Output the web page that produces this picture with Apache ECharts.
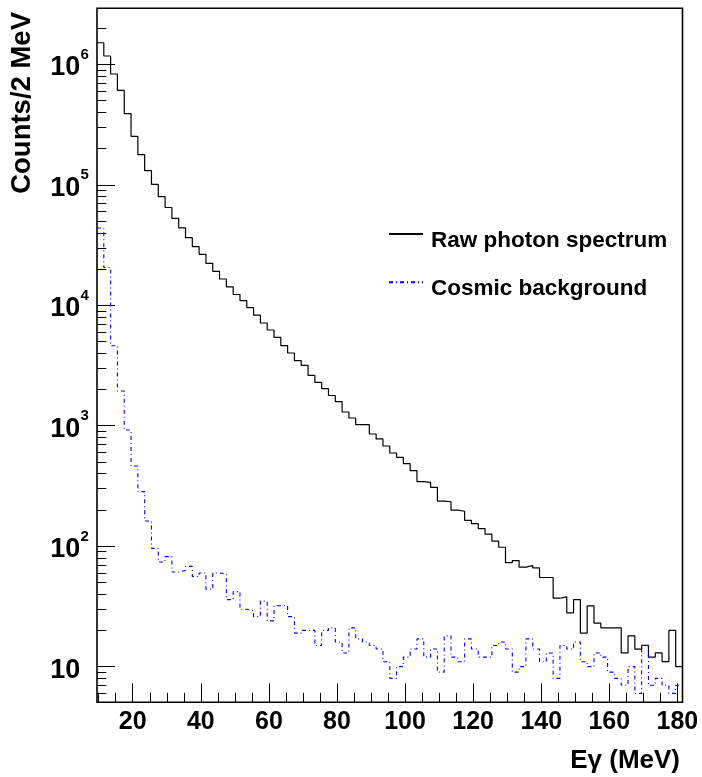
<!DOCTYPE html>
<html><head><meta charset="utf-8">
<script src="https://cdn.jsdelivr.net/npm/echarts@6/dist/echarts.min.js"></script>
<style>html,body{margin:0;padding:0;background:#fff}#c{width:702px;height:777px}</style>
</head><body><div id="c"></div>
<script>
// Histogram binning (2 MeV bins)
const histLow = 9.5;
const histHigh = 181.5;
const binWidth = 2;

// Counts per bin
const rawCounts = [1512000, 1173000, 831500, 608800, 389400, 252800, 177800, 131000, 101000, 79700,
  64800, 52750, 43980, 36400, 30650, 26510, 22320, 19150, 16530, 14240,
  12290, 10940, 9550, 8274, 7129, 6234, 5424, 4620, 4018, 3467,
  3176, 2623, 2287, 2031, 1783, 1584, 1301, 1160, 1020, 1020,
  854, 777, 679, 594, 547, 484, 424, 343, 339, 308,
  237, 234, 199, 195, 164, 154, 140, 126, 110, 98,
  73, 76, 67, 69, 66, 55, 55, 37, 38, 28,
  36, 19, 32, 23, 21, 21, 21, 13, 18, 14,
  15, 12, 13, 11, 20, 10];
const cosmicCounts = [43800, 20590, 4620, 1943, 922, 463, 284, 162, 96, 74,
  82, 61, 63, 68, 56, 60, 44, 60, 59, 36,
  42, 30, 29, 26, 35, 24, 32, 32, 26, 19,
  20, 20, 15, 20, 21, 16, 13, 21, 17, 16,
  15, 14, 11, 8, 10, 12, 14, 17, 12, 14,
  9, 18, 12, 11, 17, 14, 12, 12, 15, 16,
  14, 9, 10, 17, 14, 11, 13, 8, 15, 14,
  16, 11, 10, 13, 12, 9, 8, 7, 10, 6,
  15, 7, 8, 7, 6, 7];

// Axis ticks
const xMajorTicks = [20, 40, 60, 80, 100, 120, 140, 160, 180];
const xMinorTicks = [10, 15, 25, 30, 35, 45, 50, 55, 65, 70, 75, 85, 90, 95, 105, 110, 115,
  125, 130, 135, 145, 150, 155, 165, 170, 175];
const yDecades = [10, 100, 1000, 10000, 100000, 1000000];
const yMinorTicks = [6, 7, 8, 9, 20, 30, 40, 50, 60, 70, 80, 90,
  200, 300, 400, 500, 600, 700, 800, 900,
  2000, 3000, 4000, 5000, 6000, 7000, 8000, 9000,
  20000, 30000, 40000, 50000, 60000, 70000, 80000, 90000,
  200000, 300000, 400000, 500000, 600000, 700000, 800000, 900000, 2000000];
const yMin = 5.06;
const yMax = 2920000;

const seriesNames = ['Raw photon spectrum', 'Cosmic background'];
const xTitle = 'E\u03b3 (MeV)';
const yTitle = 'Counts/2 MeV';

const FONT = '"Liberation Sans", Arial, Helvetica, sans-serif';

function histPoints(counts) {
  const pts = counts.map((c, i) => [histLow + i * binWidth, c]);
  pts.push([histHigh, counts[counts.length - 1]]);
  return pts;
}

const chart = echarts.init(document.getElementById('c'), null, {renderer: 'canvas'});
const yBase = {
  type: 'log', logBase: 10, min: yMin, max: yMax, position: 'left', offset: 0,
  splitLine: {show: false}, axisLine: {show: false}
};
const xBase = {
  type: 'value', min: histLow, max: histHigh, position: 'bottom', offset: 0,
  splitLine: {show: false}, axisLine: {show: false}
};
chart.setOption({
  animation: false,
  backgroundColor: '#fff',
  grid: {left: 97, right: 19.5, top: 8.3, bottom: 74.7, show: true,
    borderColor: '#000', borderWidth: 1.6, backgroundColor: 'transparent'},
  xAxis: [
    Object.assign({}, xBase, {
      axisTick: {show: true, inside: true, length: 19, customValues: xMajorTicks,
        lineStyle: {color: '#000', width: 1}},
      axisLabel: {show: true, customValues: xMajorTicks, margin: 7,
        fontFamily: FONT, fontWeight: 'bold', fontSize: 25, color: '#000'}
    }),
    Object.assign({}, xBase, {
      axisTick: {show: true, inside: true, length: 9.6, customValues: xMinorTicks,
        lineStyle: {color: '#000', width: 1}},
      axisLabel: {show: false}
    })
  ],
  yAxis: [
    Object.assign({}, yBase, {
      axisTick: {show: true, inside: true, length: 18, customValues: yDecades,
        lineStyle: {color: '#000', width: 1}},
      axisLabel: {show: true, customValues: yDecades, margin: 8,
        formatter: (v) => {
          const e = Math.round(Math.log10(v));
          return e > 1 ? '{b|10}{s|' + e + '}{p| }' : '{b|10}{h|0}{p| }';
        },
        verticalAlign: 'middle',
        rich: {
          b: {fontFamily: FONT, fontWeight: 'bold', fontSize: 27, color: '#000',
            lineHeight: 27, verticalAlign: 'bottom'},
          s: {fontFamily: FONT, fontWeight: 'bold', fontSize: 15, color: '#000',
            lineHeight: 8, verticalAlign: 'top'},
          h: {fontFamily: FONT, fontWeight: 'bold', fontSize: 15, color: 'rgba(0,0,0,0)',
            lineHeight: 8, verticalAlign: 'top'},
          p: {fontSize: 1, lineHeight: 34.2}
        }}
    }),
    Object.assign({}, yBase, {
      axisTick: {show: true, inside: true, length: 9.3, customValues: yMinorTicks,
        lineStyle: {color: '#000', width: 1}},
      axisLabel: {show: false}
    })
  ],
  legend: {
    show: true, orient: 'vertical', left: 388, top: 228.4, padding: 0,
    itemWidth: 34, itemHeight: 14, itemGap: 24.6,
    itemStyle: {opacity: 0},
    formatter: (name) => '{a|' + name + '}{p| }',
    textStyle: {
      rich: {
        a: {fontFamily: FONT, fontWeight: 'bold', fontSize: 22.5, color: '#000',
          lineHeight: 26, verticalAlign: 'bottom', padding: [0, 0, 0, 3]},
        p: {fontSize: 1, lineHeight: 36}
      }
    },
    data: seriesNames
  },
  series: [
    {name: seriesNames[0], type: 'line', step: 'end', symbol: 'none', showSymbol: false,
      xAxisIndex: 0, yAxisIndex: 0, clip: true,
      lineStyle: {color: '#000', width: 1.2}, itemStyle: {color: '#000'},
      data: histPoints(rawCounts)},
    {name: seriesNames[1], type: 'line', step: 'end', symbol: 'none', showSymbol: false,
      xAxisIndex: 0, yAxisIndex: 0, clip: true,
      lineStyle: {color: '#0000ff', width: 1.1, type: [4, 3, 1, 3]}, itemStyle: {color: '#0000ff'},
      data: histPoints(cosmicCounts)}
  ],
  graphic: [
    {type: 'text', x: 8, y: 12, rotation: Math.PI / 2,
      style: {text: yTitle, textAlign: 'right', textVerticalAlign: 'top',
        font: 'bold 27.5px ' + FONT, fill: '#000'}},
    {type: 'text', right: 22, top: 748,
      style: {text: xTitle, font: 'bold 26px ' + FONT, fill: '#000'}}
  ]
});
</script>
</body></html>
